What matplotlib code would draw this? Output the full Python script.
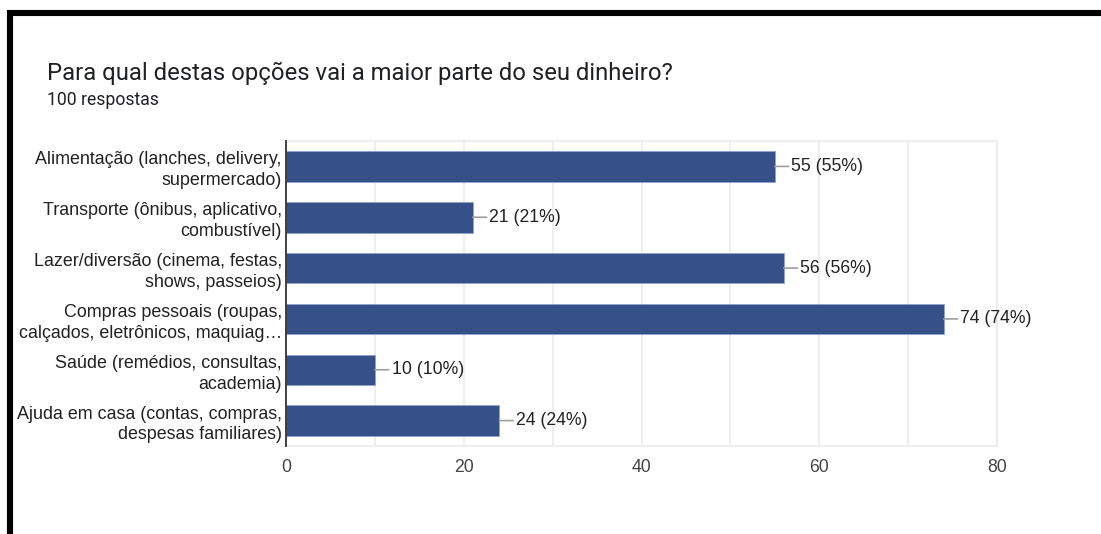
import matplotlib.pyplot as plt
from matplotlib.lines import Line2D

# Survey answers
categories = [
    "Alimentação (lanches, delivery,\nsupermercado)",
    "Transporte (ônibus, aplicativo,\ncombustível)",
    "Lazer/diversão (cinema, festas,\nshows, passeios)",
    "Compras pessoais (roupas,\ncalçados, eletrônicos, maquiag…",
    "Saúde (remédios, consultas,\nacademia)",
    "Ajuda em casa (contas, compras,\ndespesas familiares)",
]
counts = [55, 21, 56, 74, 10, 24]
total = 100
x_ticks = [0, 20, 40, 60, 80]

title = "Para qual destas opções vai a maior parte do seu dinheiro?"
subtitle = "100 respostas"

bar_color = "#36508a"
grid_color = "#ebebeb"
label_font = ["Liberation Sans", "DejaVu Sans"]

W, H = 1101, 534
fig = plt.figure(figsize=(W / 100, H / 100), dpi=100)
fig.patch.set_facecolor("white")

ax = fig.add_axes([286 / W, 1 - 446 / H, (997 - 286) / W, (446 - 141) / H])

y_pos = list(range(len(categories)))
ax.barh(y_pos, counts, height=0.6, color=bar_color, edgecolor="#8fa3cc", linewidth=0.6, zorder=3)

for y, c in zip(y_pos, counts):
    ax.annotate(f"{c} ({round(c * 100 / total)}%)", xy=(c, y), xytext=(12, 0),
                textcoords="offset points", ha="left", va="center",
                fontsize=12.7, color="#222222", family=label_font,
                arrowprops=dict(arrowstyle="-", color="#9e9e9e", lw=1.2,
                                shrinkA=0, shrinkB=0, relpos=(0, 0.5)),
                zorder=4)

ax.set_xlim(0, 80)
ax.set_ylim(len(categories) - 0.5, -0.5)
ax.set_xticks(x_ticks)
ax.set_xticks(range(10, 80, 20), minor=True)
ax.set_xticklabels([str(t) for t in x_ticks], fontsize=12.7, color="#444444", family=label_font)
ax.set_yticks(y_pos)
ax.set_yticklabels(categories, fontsize=12.9, color="#222222", family=label_font,
                   linespacing=1.3)
for lbl in ax.get_yticklabels():
    lbl.set_multialignment("right")
ax.tick_params(axis="both", which="both", length=0)
ax.tick_params(axis="x", pad=9)
ax.tick_params(axis="y", pad=3)

ax.grid(axis="x", which="both", color=grid_color, lw=1.2, zorder=0)
for side in ["top", "right", "bottom"]:
    ax.spines[side].set_color(grid_color)
    ax.spines[side].set_linewidth(1.2)
ax.spines["left"].set_color("#333333")
ax.spines["left"].set_linewidth(1.3)
ax.spines["left"].set_zorder(5)

fig.text(47 / W, 1 - 80 / H, title, fontsize=17.2, color="#202124",
         family=["Roboto", "DejaVu Sans"], ha="left", va="baseline")
fig.text(47 / W, 1 - 105 / H, subtitle, fontsize=12.7, color="#202124",
         family=["Roboto", "DejaVu Sans"], ha="left", va="baseline")

# black frame on the top and left edges
fig.add_artist(Line2D([7 / W, 1], [1 - 13 / H, 1 - 13 / H], color="black", lw=4.4,
                      solid_capstyle="butt", transform=fig.transFigure))
fig.add_artist(Line2D([10 / W, 10 / W], [1 - 10 / H, 0], color="black", lw=4.4,
                      solid_capstyle="butt", transform=fig.transFigure))

fig.savefig("out.png", dpi=100)
